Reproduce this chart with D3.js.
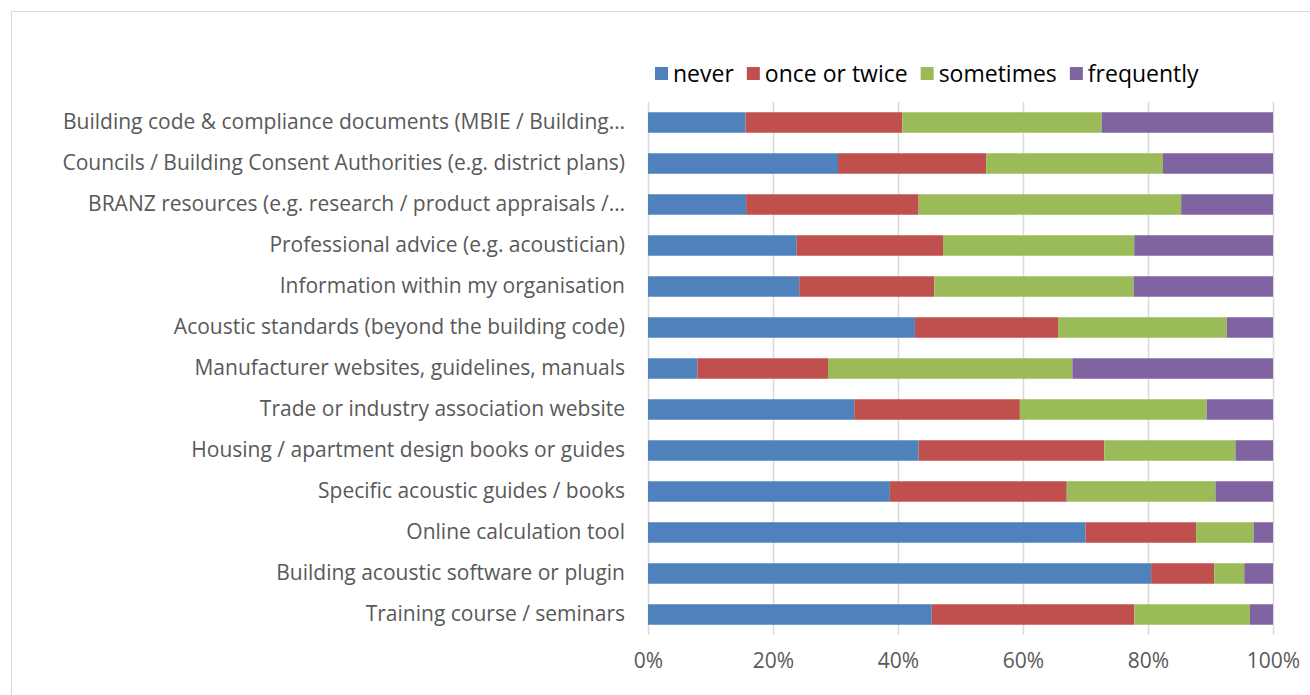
<!DOCTYPE html>
<html>
<head>
<meta charset="utf-8">
<style>
    body { margin: 0; background: #fff; }
    text { font-family: "Open Sans", sans-serif; }
    .tick text { fill: #595959; font-size: 21px; }
    .legend text { fill: #000; font-size: 23px; }
</style>
<script src="https://d3js.org/d3.v7.min.js"></script>
</head>
<body>
<svg width="1310" height="695"></svg>
<script>

var categories = [
    "Building code & compliance documents (MBIE / Building\u2026",
    "Councils / Building Consent Authorities (e.g. district plans)",
    "BRANZ resources (e.g. research / product appraisals /\u2026",
    "Professional advice (e.g. acoustician)",
    "Information within my organisation",
    "Acoustic standards (beyond the building code)",
    "Manufacturer websites, guidelines, manuals",
    "Trade or industry association website",
    "Housing / apartment design books or guides",
    "Specific acoustic guides / books",
    "Online calculation tool",
    "Building acoustic software or plugin",
    "Training course / seminars"
];
var seriesNames = ["never", "once or twice", "sometimes", "frequently"];
var colors = ["#4F81BD", "#C0504D", "#9BBB59", "#8064A2"];

// percent of respondents per category
var never      = [15.6, 30.4, 15.7, 23.8, 24.2, 42.7,  7.9, 33.0, 43.3, 38.7, 70.0, 80.5, 45.4];
var onceTwice  = [25.1, 23.7, 27.6, 23.4, 21.6, 22.9, 20.9, 26.5, 29.7, 28.3, 17.7, 10.1, 32.4];
var sometimes  = [31.9, 28.3, 42.0, 30.6, 31.9, 27.0, 39.1, 29.9, 21.0, 23.8,  9.2,  4.8, 18.5];
var frequently = [27.4, 17.6, 14.7, 22.2, 22.3,  7.4, 32.1, 10.6,  6.0,  9.2,  3.1,  4.6,  3.7];
var xTicks = [0, 0.2, 0.4, 0.6, 0.8, 1];

var svg = d3.select("svg");

// chart border
svg.append("rect")
    .attr("x", 11.5).attr("y", 11.5)
    .attr("width", 1310).attr("height", 700)
    .attr("fill", "none").attr("stroke", "#d9d9d9");

var margin = {top: 102, left: 648, right: 37, bottom: 60},
    width = 1310 - margin.left - margin.right,
    height = 695 - margin.top - margin.bottom;

var g = svg.append("g").attr("transform", "translate(" + margin.left + "," + margin.top + ")");

var rows = categories.map(function(c, i) {
    var vals = [never[i], onceTwice[i], sometimes[i], frequently[i]];
    var total = d3.sum(vals);
    var d = {cat: c};
    seriesNames.forEach(function(s, j) { d[s] = vals[j] / total; });
    return d;
});

var x = d3.scaleLinear().domain([0, 1]).range([0, width]);
var y = d3.scaleBand().domain(categories).range([0, height]).paddingInner(0.5).paddingOuter(0.25);

// gridlines
g.append("g")
    .selectAll("line")
    .data(xTicks)
    .enter().append("line")
    .attr("x1", function(d) { return x(d) + 0.5; })
    .attr("x2", function(d) { return x(d) + 0.5; })
    .attr("y1", 0).attr("y2", height)
    .attr("stroke", "#d9d9d9").attr("stroke-width", 1.5);

var stack = d3.stack().keys(seriesNames)(rows);

g.selectAll(".series")
    .data(stack)
    .enter().append("g")
    .attr("class", "series")
    .attr("fill", function(d, i) { return colors[i]; })
  .selectAll("rect")
    .data(function(d) { return d; })
    .enter().append("rect")
    .attr("x", function(d) { return x(d[0]); })
    .attr("y", function(d) { return y(d.data.cat); })
    .attr("width", function(d) { return x(d[1]) - x(d[0]); })
    .attr("height", y.bandwidth());

// x axis
g.append("g")
    .attr("transform", "translate(0," + height + ")")
    .call(d3.axisBottom(x).tickValues(xTicks).tickFormat(d3.format(".0%")).tickSize(0).tickPadding(18))
    .call(function(a) { a.select(".domain").remove(); });

// y axis
g.append("g")
    .call(d3.axisLeft(y).tickSize(0).tickPadding(23))
    .call(function(a) { a.select(".domain").remove(); });

// legend
var legend = svg.append("g").attr("class", "legend").attr("transform", "translate(655,74)");
var lx = 0;
seriesNames.forEach(function(s, i) {
    legend.append("rect")
        .attr("x", lx).attr("y", -7).attr("width", 13).attr("height", 13)
        .attr("fill", colors[i]);
    var t = legend.append("text")
        .attr("x", lx + 18).attr("y", 0).attr("dy", "0.35em")
        .text(s);
    lx += 18 + t.node().getComputedTextLength() + 13;
});

</script>
</body>
</html>
